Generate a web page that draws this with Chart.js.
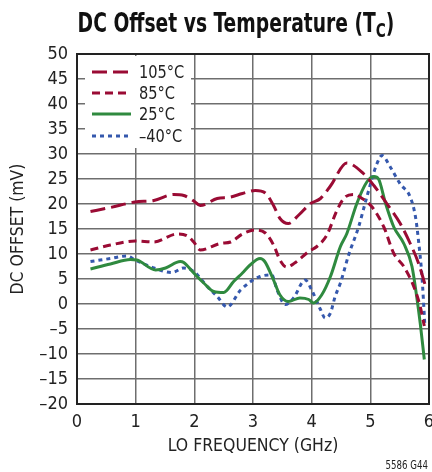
<!DOCTYPE html>
<html>
<head>
<meta charset="utf-8">
<script src="https://cdn.jsdelivr.net/npm/chart.js@4/dist/chart.umd.min.js"></script>
<style>
  html, body { margin: 0; padding: 0; background: #fff; }
  #wrap { width: 432px; height: 472px; }
</style>
</head>
<body>
<div id="wrap"><canvas id="chart" width="432" height="472"></canvas></div>
<script>
// LO frequency (GHz) and DC offset (mV) per temperature
var seriesNames = ['105\u00B0C', '85\u00B0C', '25\u00B0C', '\u201340\u00B0C'];

var f105 = [0.23, 0.57, 0.99, 1.31, 1.65, 1.82, 1.99, 2.1, 2.39, 2.62, 2.82, 3.04, 3.21, 3.35, 3.46, 3.6, 3.78, 3.98, 4.15, 4.32, 4.6, 4.89, 5.06, 5.28, 5.51, 5.68, 5.82, 5.93];
var v105 = [18.5, 19.3, 20.4, 20.7, 21.9, 21.7, 20.6, 19.7, 21.1, 21.4, 22.1, 22.7, 22.2, 19.7, 17.1, 16.1, 17.8, 20.1, 21.1, 23.6, 28.2, 26.0, 23.7, 20.1, 16.1, 12.1, 8.2, 4.0];

var f85 = [0.23, 0.57, 0.99, 1.31, 1.71, 1.88, 1.99, 2.1, 2.44, 2.62, 2.82, 3.04, 3.21, 3.35, 3.46, 3.57, 3.71, 3.95, 4.09, 4.26, 4.43, 4.57, 4.72, 4.86, 5.03, 5.23, 5.4, 5.57, 5.74, 5.85, 5.92];
var v85 = [10.8, 11.8, 12.6, 12.4, 14.0, 13.6, 12.4, 10.8, 12.1, 12.4, 14.0, 14.8, 14.2, 11.8, 8.8, 7.4, 8.2, 10.5, 11.5, 13.8, 18.7, 21.4, 21.9, 21.1, 19.4, 15.4, 10.1, 7.5, 3.5, -0.5, -4.4];

var f25 = [0.23, 0.57, 0.91, 1.02, 1.34, 1.51, 1.76, 1.82, 1.99, 2.16, 2.33, 2.5, 2.67, 2.82, 2.95, 3.12, 3.2, 3.35, 3.46, 3.6, 3.8, 3.95, 4.03, 4.17, 4.32, 4.49, 4.6, 4.77, 4.94, 5.06, 5.14, 5.26, 5.4, 5.57, 5.71, 5.79, 5.85, 5.92];
var v25 = [7.0, 8.0, 8.9, 8.8, 6.8, 7.2, 8.5, 8.3, 6.2, 4.2, 2.5, 2.3, 4.5, 6.2, 7.8, 9.1, 8.5, 4.8, 1.8, 0.5, 1.2, 0.9, 0.2, 1.8, 5.5, 11.5, 14.1, 20.1, 24.4, 25.5, 25.0, 20.1, 15.4, 12.1, 7.5, 1.5, -3.8, -11.1];

var fm40 = [0.23, 0.57, 0.85, 0.99, 1.31, 1.62, 1.82, 1.99, 2.22, 2.39, 2.56, 2.79, 3.12, 3.32, 3.41, 3.55, 3.69, 3.89, 4.0, 4.15, 4.23, 4.32, 4.4, 4.49, 4.63, 4.8, 4.94, 5.11, 5.2, 5.34, 5.51, 5.68, 5.77, 5.82, 5.88, 5.93];
var vm40 = [8.5, 9.1, 9.6, 8.8, 7.2, 6.3, 7.2, 6.5, 3.5, 1.5, -0.6, 2.8, 5.5, 5.8, 2.8, -0.1, 1.2, 4.8, 2.8, -1.1, -2.8, -1.8, 1.5, 4.2, 9.8, 15.4, 21.4, 28.0, 29.7, 27.4, 24.0, 21.4, 17.4, 12.8, 5.5, -4.4];

var xTicks = [0, 1, 2, 3, 4, 5, 6];
var yTicks = [-20, -15, -10, -5, 0, 5, 10, 15, 20, 25, 30, 35, 40, 45, 50];

var RED = '#9a0b34', GREEN = '#2f8a3f', BLUE = '#3558ad';
var FONT = '"DejaVu Sans Condensed", "Liberation Sans", sans-serif';

function pts(xs, ys){ return xs.map(function(x, i){ return { x: x, y: ys[i] }; }); }

var styles = [
  { color: RED,   dash: [15, 6] },
  { color: RED,   dash: [8, 5] },
  { color: GREEN, dash: [] },
  { color: BLUE,  dash: [4, 4] }
];
var allData = [pts(f105, v105), pts(f85, v85), pts(f25, v25), pts(fm40, vm40)];

var datasets = allData.map(function(d, i){
  return {
    label: seriesNames[i],
    data: d,
    borderColor: styles[i].color,
    borderDash: styles[i].dash,
    borderWidth: 3,
    pointRadius: 0,
    fill: false,
    cubicInterpolationMode: 'monotone'
  };
});

// squeezed text, the reference uses a narrow face
function narrowText(c, txt, x, y, sx){
  c.save();
  c.translate(x, y);
  c.scale(sx, 1);
  c.fillText(txt, 0, 0);
  c.restore();
}

// title, axis titles, legend box and the figure tag
var decor = {
  id: 'decor',
  beforeDatasetsDraw: function(chart){
    var c = chart.ctx, a = chart.chartArea;
    c.save();
    c.fillStyle = '#fff';
    c.fillRect(a.left + 8, a.top + 2, 106, 92);
    c.restore();
  },
  afterDraw: function(chart){
    var c = chart.ctx, a = chart.chartArea;
    c.save();
    // legend
    var ly = [72, 93, 114, 136];
    ly.forEach(function(y, i){
      c.beginPath();
      c.strokeStyle = styles[i].color;
      c.lineWidth = 3;
      c.setLineDash(styles[i].dash);
      c.moveTo(92, y);
      c.lineTo(131, y);
      c.stroke();
      c.setLineDash([]);
      c.fillStyle = '#222';
      c.font = '18px ' + FONT;
      c.textAlign = 'left';
      c.textBaseline = 'middle';
      narrowText(c, seriesNames[i], 139, y + 1, 0.9);
    });
    // title
    var sx = 0.8;
    c.fillStyle = '#111';
    c.textBaseline = 'alphabetic';
    c.textAlign = 'left';
    var t1 = 'DC Offset vs Temperature (T';
    c.font = 'bold 26px ' + FONT;
    var w1 = c.measureText(t1).width * sx;
    var w3 = c.measureText(')').width * sx;
    c.font = 'bold 19px ' + FONT;
    var w2 = c.measureText('C').width * sx;
    var x0 = 236 - (w1 + w2 + w3) / 2;
    c.font = 'bold 26px ' + FONT;
    narrowText(c, t1, x0, 32, sx);
    narrowText(c, ')', x0 + w1 + w2, 32, sx);
    c.font = 'bold 19px ' + FONT;
    narrowText(c, 'C', x0 + w1, 37, sx);
    // axis titles
    c.font = '18px ' + FONT;
    c.fillStyle = '#222';
    c.textAlign = 'center';
    c.textBaseline = 'middle';
    narrowText(c, 'LO FREQUENCY (GHz)', (a.left + a.right) / 2, 446, 0.97);
    c.save();
    c.translate(18, (a.top + a.bottom) / 2);
    c.rotate(-Math.PI / 2);
    narrowText(c, 'DC OFFSET (mV)', 0, 0, 0.97);
    c.restore();
    c.font = '12px ' + FONT;
    c.textAlign = 'right';
    narrowText(c, '5586 G44', 428, 466, 0.8);
    // frame
    c.strokeStyle = '#222';
    c.lineWidth = 2;
    c.strokeRect(a.left, a.top, a.right - a.left, a.bottom - a.top);
    c.restore();
  }
};

new Chart(document.getElementById('chart').getContext('2d'), {
  type: 'line',
  data: { datasets: datasets },
  options: {
    responsive: false,
    animation: false,
    layout: { padding: { left: 0, right: 3, top: 54, bottom: 0 } },
    plugins: { legend: { display: false }, tooltip: { enabled: false }, title: { display: false } },
    scales: {
      x: {
        type: 'linear', min: 0, max: 6,
        afterBuildTicks: function(s){ s.ticks = xTicks.map(function(v){ return { value: v }; }); },
        afterFit: function(s){ s.height = 68; s.paddingLeft = 0; s.paddingRight = 0; },
        grid: { color: '#6e6e6e', lineWidth: 1.5, drawTicks: false },
        border: { display: false },
        ticks: { color: '#222', font: { family: FONT, size: 18 }, padding: 8, maxRotation: 0 }
      },
      y: {
        min: -20, max: 50,
        afterBuildTicks: function(s){ s.ticks = yTicks.map(function(v){ return { value: v }; }); },
        afterFit: function(s){ s.width = 77; s.paddingTop = 0; s.paddingBottom = 0; },
        grid: { color: '#6e6e6e', lineWidth: 1.5, drawTicks: false },
        border: { display: false },
        ticks: {
          color: '#222', font: { family: FONT, size: 18 }, padding: 9,
          callback: function(v){ return String(v).replace('-', '\u2013'); }
        }
      }
    }
  },
  plugins: [decor]
});
</script>
</body>
</html>
